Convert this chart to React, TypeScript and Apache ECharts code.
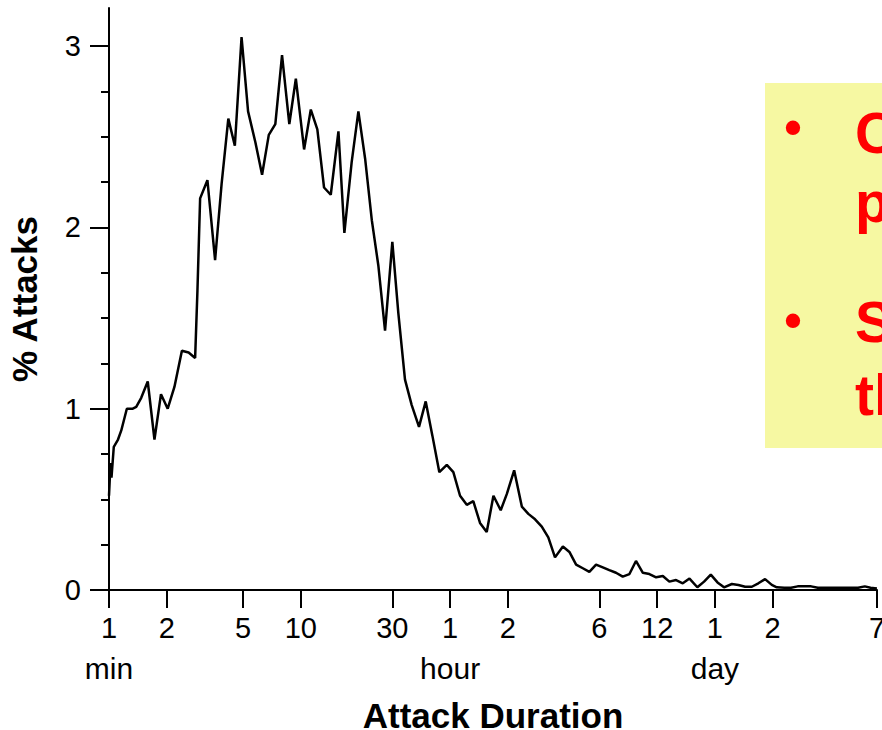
import React, { useEffect, useRef } from 'react';
import * as echarts from 'echarts';

// x: attack duration, log10(minutes)
const durationLog10Min = [
  0.000, 0.008, 0.013, 0.025, 0.047, 0.064, 0.093, 0.124, 0.142, 0.168,
  0.202, 0.237, 0.271, 0.306, 0.341, 0.380, 0.415, 0.449, 0.461, 0.475,
  0.513, 0.553, 0.587, 0.622, 0.656, 0.691, 0.725, 0.763, 0.798, 0.833,
  0.867, 0.902, 0.940, 0.974,
  1.017, 1.052, 1.086, 1.121, 1.156, 1.196, 1.227, 1.265, 1.300, 1.335,
  1.370, 1.404, 1.439, 1.477, 1.508, 1.543, 1.578, 1.616, 1.651, 1.686,
  1.722, 1.761, 1.795, 1.830, 1.865, 1.899, 1.934, 1.969,
  2.004, 2.042, 2.074, 2.112, 2.152, 2.186, 2.221, 2.256, 2.290, 2.325,
  2.366, 2.400, 2.435, 2.470, 2.504, 2.539, 2.574, 2.608, 2.643, 2.678,
  2.713, 2.747, 2.783, 2.817, 2.852, 2.887, 2.921, 2.956, 2.991,
  3.026, 3.067, 3.102, 3.137, 3.172, 3.206, 3.247, 3.281, 3.316, 3.351,
  3.385, 3.420, 3.455, 3.481, 3.520, 3.555, 3.590, 3.625, 3.660, 3.695,
  3.730, 3.765, 3.800, 3.835, 3.870, 3.905, 3.940, 3.970, 4.003,
];

// y: % of attacks
const attackPct = [
  0.52, 0.70, 0.62, 0.79, 0.83, 0.88, 1.00, 1.00, 1.01, 1.06,
  1.15, 0.83, 1.08, 1.00, 1.12, 1.32, 1.31, 1.28, 1.65, 2.16,
  2.26, 1.82, 2.24, 2.60, 2.45, 3.05, 2.64, 2.47, 2.29, 2.51,
  2.57, 2.95, 2.57, 2.82,
  2.43, 2.65, 2.54, 2.22, 2.18, 2.53, 1.97, 2.36, 2.64, 2.38,
  2.04, 1.79, 1.43, 1.92, 1.53, 1.16, 1.02, 0.90, 1.04, 0.85,
  0.65, 0.69, 0.65, 0.52, 0.47, 0.49, 0.37, 0.32,
  0.52, 0.44, 0.53, 0.66, 0.46, 0.42, 0.39, 0.35, 0.29, 0.18,
  0.24, 0.21, 0.14, 0.12, 0.10, 0.14, 0.125, 0.11, 0.095, 0.074,
  0.088, 0.16, 0.095, 0.088, 0.07, 0.077, 0.046, 0.055, 0.037,
  0.063, 0.015, 0.046, 0.085, 0.042, 0.015, 0.033, 0.028, 0.018, 0.018,
  0.037, 0.06, 0.028, 0.015, 0.012, 0.012, 0.02, 0.02, 0.02, 0.012,
  0.012, 0.012, 0.012, 0.012, 0.012, 0.012, 0.02, 0.012, 0.008,
];

const tickMinutes = [1, 2, 5, 10, 30, 60, 120, 360, 720, 1440, 2880, 10080];
const tickLabels = ['1', '2', '5', '10', '30', '1', '2', '6', '12', '1', '2', '7'];
const tickUnits = ['min', '', '', '', '', 'hour', '', '', '', 'day', '', ''];

const yMajorTicks = [0, 1, 2, 3];
const yMinorTicks = [0.25, 0.5, 0.75, 1.25, 1.5, 1.75, 2.25, 2.5, 2.75];

// visible (cut-off) start of the two bullet points in the note box
const bulletPoints = [
  ['C', 'p'],
  ['S', 'th'],
];

const FONT = '"Liberation Sans", Arial, Helvetica, sans-serif';

export default function App() {
  const ref = useRef<HTMLDivElement>(null);

  useEffect(() => {
    if (!ref.current) return;
    const chart = echarts.init(ref.current, undefined, { renderer: 'svg' });
    const tickLogs = tickMinutes.map((m) => Math.log10(m));
    const xMax = Math.log10(tickMinutes[tickMinutes.length - 1]);

    const textEls: any[] = [];
    const lineYs = [[133, 202], [322, 395]];
    const bulletYs = [127, 320];
    bulletPoints.forEach((lines, i) => {
      textEls.push({
        type: 'text',
        x: 793,
        y: bulletYs[i],
        z: 5,
        style: {
          text: '•',
          fill: '#FF0000',
          font: `bold 50px ${FONT}`,
          align: 'center',
          verticalAlign: 'middle',
        },
      });
      lines.forEach((t, j) => {
        textEls.push({
          type: 'text',
          x: 855,
          y: lineYs[i][j],
          z: 5,
          style: {
            text: t,
            fill: '#FF0000',
            font: `bold 57px ${FONT}`,
            align: 'left',
            verticalAlign: 'middle',
          },
        });
      });
    });

    chart.setOption({
      animation: false,
      backgroundColor: '#ffffff',
      textStyle: { fontFamily: FONT },
      grid: {
        left: 109,
        right: 5,
        top: 8,
        bottom: 140,
        containLabel: false,
        outerBoundsMode: 'none',
      },
      xAxis: {
        type: 'value',
        min: 0,
        max: xMax,
        name: 'Attack Duration',
        nameLocation: 'middle',
        nameGap: 108,
        nameTextStyle: { fontSize: 35, fontWeight: 'bold', color: '#000', fontFamily: FONT },
        axisLine: { show: true, lineStyle: { color: '#000', width: 2 } },
        axisTick: {
          show: true,
          customValues: tickLogs,
          length: 18,
          lineStyle: { color: '#000', width: 2 },
        },
        splitLine: { show: false },
        axisLabel: {
          customValues: tickLogs,
          margin: 18,
          color: '#000',
          fontSize: 29,
          formatter: (v: number) => {
            let idx = 0;
            let best = Infinity;
            tickLogs.forEach((t, i) => {
              const d = Math.abs(t - v);
              if (d < best) { best = d; idx = i; }
            });
            const unit = tickUnits[idx];
            return unit ? `{n|${tickLabels[idx]}}\n{u|${unit}}` : `{n|${tickLabels[idx]}}`;
          },
          rich: {
            n: { fontSize: 29, lineHeight: 40, color: '#000', fontFamily: FONT },
            u: { fontSize: 30, lineHeight: 40, color: '#000', fontFamily: FONT },
          },
        },
      },
      yAxis: [
        {
          type: 'value',
          min: 0,
          max: 3.21,
          position: 'left',
          name: '% Attacks',
          nameLocation: 'middle',
          nameGap: 67,
          nameTextStyle: { fontSize: 35, fontWeight: 'bold', color: '#000', fontFamily: FONT },
          axisLine: { show: true, lineStyle: { color: '#000', width: 2 } },
          axisTick: {
            show: true,
            customValues: yMajorTicks,
            length: 19,
            lineStyle: { color: '#000', width: 2 },
          },
          axisLabel: {
            customValues: yMajorTicks,
            margin: 28,
            color: '#000',
            fontSize: 29,
            fontFamily: FONT,
          },
          splitLine: { show: false },
        },
        {
          type: 'value',
          min: 0,
          max: 3.21,
          position: 'left',
          axisLine: { show: false },
          axisTick: {
            show: true,
            customValues: yMinorTicks,
            length: 8,
            lineStyle: { color: '#000', width: 2 },
          },
          axisLabel: { show: false },
          splitLine: { show: false },
        },
      ],
      series: [
        {
          type: 'line',
          data: durationLog10Min.map((x, i) => [x, attackPct[i]]),
          showSymbol: false,
          symbol: 'none',
          smooth: false,
          lineStyle: { color: '#000', width: 2.5 },
          z: 3,
        },
      ],
      graphic: [
        {
          type: 'rect',
          shape: { x: 765, y: 83, width: 200, height: 365 },
          style: { fill: '#F6F8A2' },
          z: 1,
        },
        ...textEls,
      ],
    });

    return () => chart.dispose();
  }, []);

  return (
    <div
      ref={ref}
      style={{ position: 'fixed', left: 0, top: 0, width: 882, height: 730, background: '#fff' }}
    />
  );
}
